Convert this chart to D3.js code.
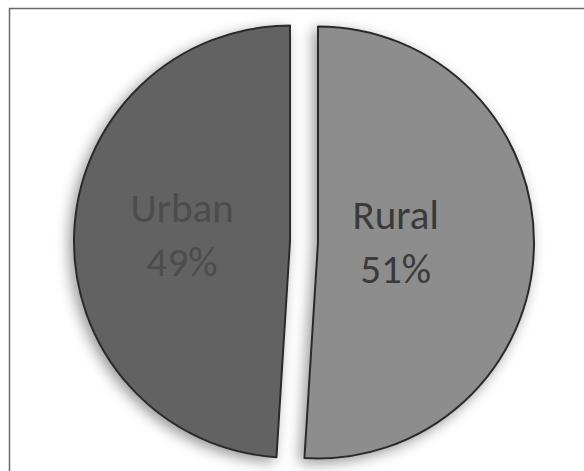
<!DOCTYPE html>
<html>
<head>
<meta charset="utf-8">
<script src="https://cdn.jsdelivr.net/npm/d3@7"></script>
<style>
  body { margin: 0; background: #ffffff; }
  #chart { width: 584px; height: 471px; }
  .slice-label { font-family: Calibri, Carlito, "Liberation Sans", Arial, sans-serif; }
</style>
</head>
<body>
<div id="chart"></div>
<script>
// data
var categories = ["Rural", "Urban"];
var shares = [51, 49];

var sliceColors = { Rural: "#8d8d8d", Urban: "#626262" };
var textColors = { Rural: "#3a3a3a", Urban: "#4c4c4c" };
// Excel places the labels a little unevenly
var labelFactor = { Rural: 0.36, Urban: 0.5 };

var width = 584,
  height = 471;
var cx = 304,
  cy = 242,
  radius = 216,
  explode = 14;

var svg = d3
  .select("#chart")
  .append("svg")
  .attr("width", width)
  .attr("height", height);

// frame (only left and top edges show in the picture)
svg
  .append("path")
  .attr("d", "M9.5," + height + " V8.5 H" + width)
  .attr("fill", "none")
  .attr("stroke", "#6a6a6a")
  .attr("stroke-width", 1.5);

var defs = svg.append("defs");
var shadow = defs
  .append("filter")
  .attr("id", "shadow")
  .attr("x", "-20%")
  .attr("y", "-20%")
  .attr("width", "140%")
  .attr("height", "140%");
shadow
  .append("feDropShadow")
  .attr("dx", -4)
  .attr("dy", 4)
  .attr("stdDeviation", 7)
  .attr("flood-color", "#000")
  .attr("flood-opacity", 0.4);

var rows = categories.map(function (c, i) {
  return { name: c, value: shares[i] };
});

var pie = d3
  .pie()
  .sort(null)
  .value(function (d) {
    return d.value;
  });

var arc = d3.arc().innerRadius(0).outerRadius(radius);

var arcs = pie(rows);

var g = svg
  .append("g")
  .attr("transform", "translate(" + cx + "," + cy + ")");

var slices = g
  .selectAll(".slice")
  .data(arcs)
  .enter()
  .append("g")
  .attr("class", "slice")
  .attr("transform", function (d) {
    var mid = (d.startAngle + d.endAngle) / 2;
    return (
      "translate(" + explode * Math.sin(mid) + "," + -explode * Math.cos(mid) + ")"
    );
  });

slices
  .append("path")
  .attr("d", arc)
  .attr("fill", function (d) {
    return sliceColors[d.data.name];
  })
  .attr("stroke", "#2b2b2b")
  .attr("stroke-width", 2)
  .attr("stroke-linejoin", "round")
  .attr("filter", "url(#shadow)");

var labels = slices
  .append("text")
  .attr("class", "slice-label")
  .attr("text-anchor", "middle")
  .attr("font-size", "41px")
  .attr("font-weight", 500)
  .attr("fill", function (d) {
    return textColors[d.data.name];
  })
  .attr("transform", function (d) {
    var mid = (d.startAngle + d.endAngle) / 2;
    var r = radius * labelFactor[d.data.name];
    return "translate(" + r * Math.sin(mid) + "," + (-r * Math.cos(mid) - 16) + ")";
  });

labels
  .append("tspan")
  .attr("x", 0)
  .attr("y", 0)
  .text(function (d) {
    return d.data.name;
  });

labels
  .append("tspan")
  .attr("x", 0)
  .attr("dy", 54)
  .text(function (d) {
    return d.data.value + "%";
  });
</script>
</body>
</html>
